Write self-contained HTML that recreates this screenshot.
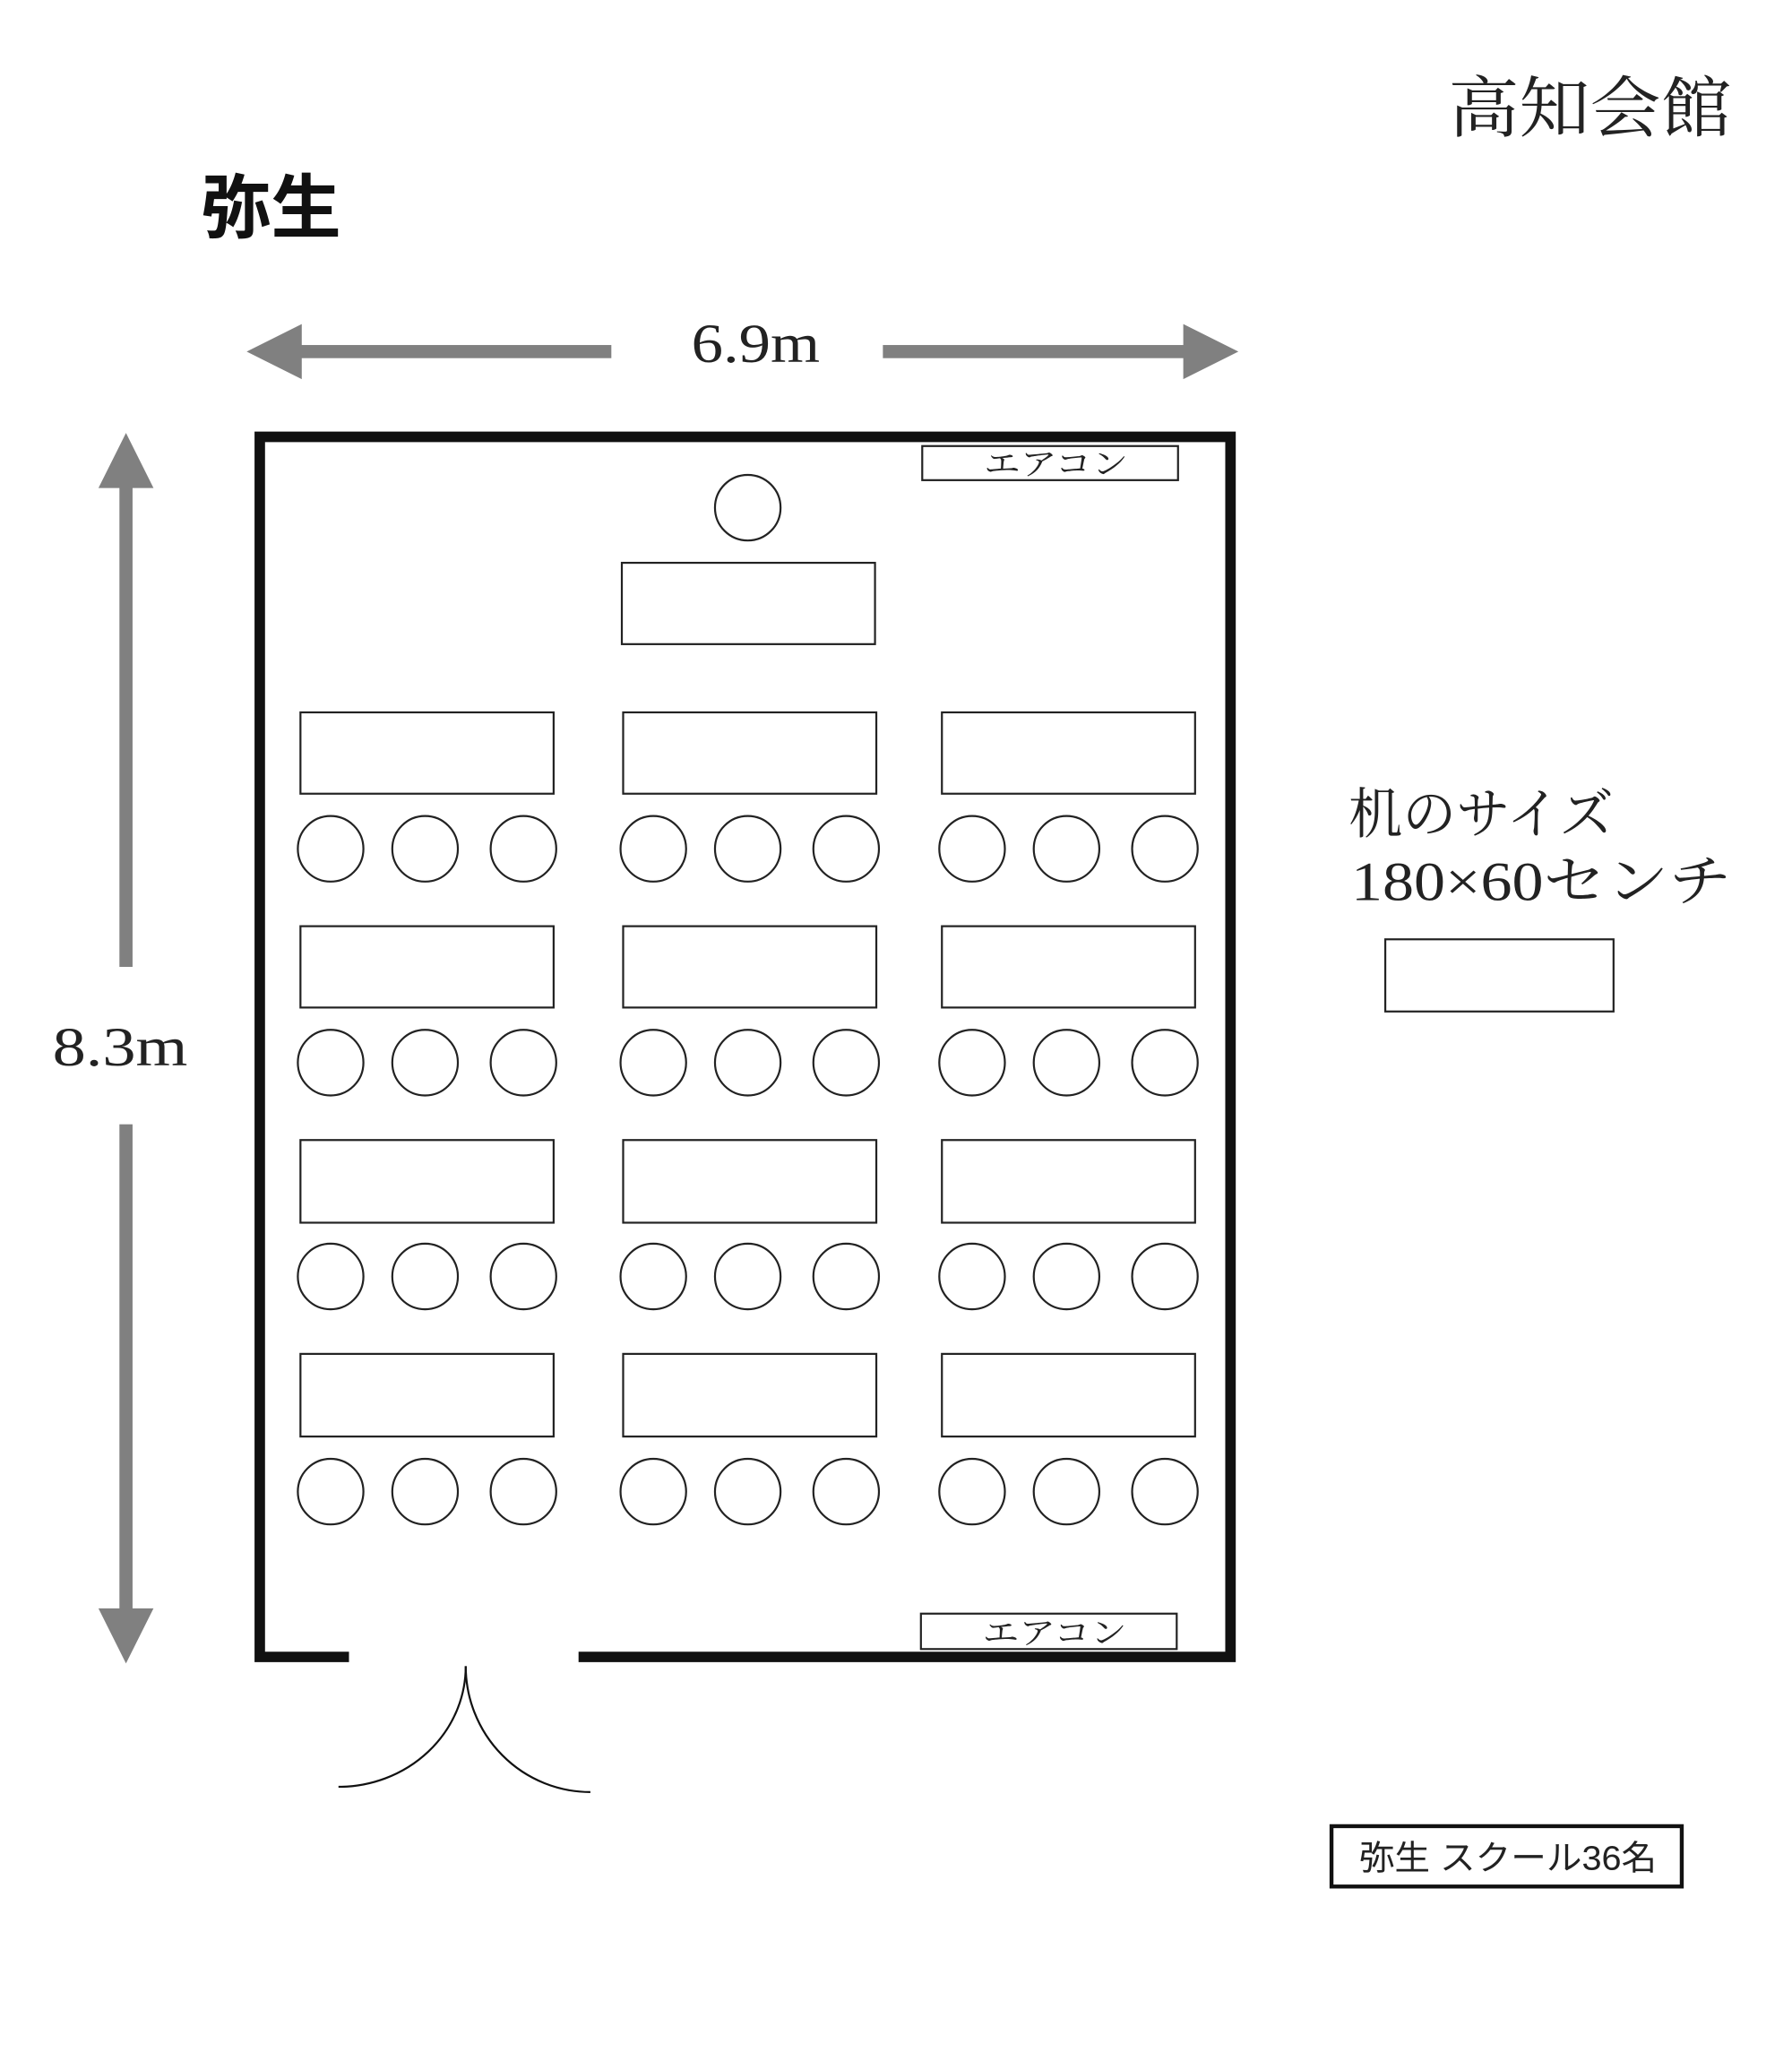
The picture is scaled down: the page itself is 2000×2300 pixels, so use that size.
<!DOCTYPE html>
<html><head><meta charset="utf-8"><style>
html,body{margin:0;padding:0;background:#fff;}
svg{display:block}
.s{font-family:"Liberation Serif","Noto Serif CJK SC",serif;}
.g{font-family:"Liberation Sans","Noto Sans CJK JP",sans-serif;}
</style></head><body>
<svg width="2000" height="2300" viewBox="0 0 1366 1571" xmlns="http://www.w3.org/2000/svg">
<rect width="1366" height="1571" fill="#fff"/>
<text x="1104" y="100" class="s" font-size="51" fill="#222" textLength="216" lengthAdjust="spacingAndGlyphs">高知会館</text>
<text x="153" y="177" class="g" font-size="53" font-weight="bold" fill="#111" textLength="107" lengthAdjust="spacingAndGlyphs">弥生</text>
<g fill="#808080">
<rect x="226" y="263" width="240" height="10"/>
<polygon points="188,268 230,247 230,289"/>
<rect x="673" y="263" width="236" height="10"/>
<polygon points="944,268 902,247 902,289"/>
<rect x="91" y="368" width="10" height="369"/>
<polygon points="96,330 75,372 117,372"/>
<rect x="91" y="857" width="10" height="372"/>
<polygon points="96,1268 75,1226 117,1226"/>
</g>
<text x="527" y="276" class="s" font-size="42" fill="#222" textLength="98" lengthAdjust="spacingAndGlyphs">6.9m</text>
<text x="40" y="812" class="s" font-size="42" fill="#222" textLength="103" lengthAdjust="spacingAndGlyphs">8.3m</text>
<g fill="none" stroke="#111" stroke-width="8">
<polyline points="266,1263 198,1263 198,333 938,333 938,1263 441,1263"/>
</g>
<g fill="#fff" stroke="#222" stroke-width="1.5">
<rect x="703" y="340" width="195" height="26"/>
<rect x="702" y="1230" width="195" height="27"/>
<circle cx="570" cy="387" r="25"/>
<rect x="474" y="429" width="193" height="62"/>
</g>
<text x="805" y="362" text-anchor="middle" class="s" font-size="24" fill="#222" textLength="110" lengthAdjust="spacingAndGlyphs">エアコン</text>
<text x="804" y="1253" text-anchor="middle" class="s" font-size="24" fill="#222" textLength="110" lengthAdjust="spacingAndGlyphs">エアコン</text>
<g fill="#fff" stroke="#222" stroke-width="1.5">
<rect x="229" y="543" width="193" height="62"/><rect x="475" y="543" width="193" height="62"/><rect x="718" y="543" width="193" height="62"/>
<rect x="229" y="706" width="193" height="62"/><rect x="475" y="706" width="193" height="62"/><rect x="718" y="706" width="193" height="62"/>
<rect x="229" y="869" width="193" height="63"/><rect x="475" y="869" width="193" height="63"/><rect x="718" y="869" width="193" height="63"/>
<rect x="229" y="1032" width="193" height="63"/><rect x="475" y="1032" width="193" height="63"/><rect x="718" y="1032" width="193" height="63"/>
</g>
<g fill="#fff" stroke="#222" stroke-width="1.5">
<circle cx="252" cy="647" r="25"/><circle cx="324" cy="647" r="25"/><circle cx="399" cy="647" r="25"/><circle cx="498" cy="647" r="25"/><circle cx="570" cy="647" r="25"/><circle cx="645" cy="647" r="25"/><circle cx="741" cy="647" r="25"/><circle cx="813" cy="647" r="25"/><circle cx="888" cy="647" r="25"/>
<circle cx="252" cy="810" r="25"/><circle cx="324" cy="810" r="25"/><circle cx="399" cy="810" r="25"/><circle cx="498" cy="810" r="25"/><circle cx="570" cy="810" r="25"/><circle cx="645" cy="810" r="25"/><circle cx="741" cy="810" r="25"/><circle cx="813" cy="810" r="25"/><circle cx="888" cy="810" r="25"/>
<circle cx="252" cy="973" r="25"/><circle cx="324" cy="973" r="25"/><circle cx="399" cy="973" r="25"/><circle cx="498" cy="973" r="25"/><circle cx="570" cy="973" r="25"/><circle cx="645" cy="973" r="25"/><circle cx="741" cy="973" r="25"/><circle cx="813" cy="973" r="25"/><circle cx="888" cy="973" r="25"/>
<circle cx="252" cy="1137" r="25"/><circle cx="324" cy="1137" r="25"/><circle cx="399" cy="1137" r="25"/><circle cx="498" cy="1137" r="25"/><circle cx="570" cy="1137" r="25"/><circle cx="645" cy="1137" r="25"/><circle cx="741" cy="1137" r="25"/><circle cx="813" cy="1137" r="25"/><circle cx="888" cy="1137" r="25"/>
</g>
<g fill="none" stroke="#111" stroke-width="1.5">
<path d="M355,1270 A97,92 0 0 1 258,1362"/>
<path d="M355,1270 A95,96 0 0 0 450,1366"/>
</g>
<text x="1028" y="635" class="s" font-size="42" fill="#222" textLength="202" lengthAdjust="spacingAndGlyphs">机のサイズ</text>
<text x="1030" y="686" class="s" font-size="42" fill="#222" textLength="290" lengthAdjust="spacingAndGlyphs">180×60センチ</text>
<rect x="1056" y="716" width="174" height="55" fill="#fff" stroke="#222" stroke-width="1.5"/>
<rect x="1015" y="1392" width="267" height="46" fill="#fff" stroke="#111" stroke-width="3"/>
<text x="1036" y="1425" class="g" font-size="26" fill="#222" textLength="227" lengthAdjust="spacingAndGlyphs">弥生 スクール36名</text>
</svg>
</body></html>
